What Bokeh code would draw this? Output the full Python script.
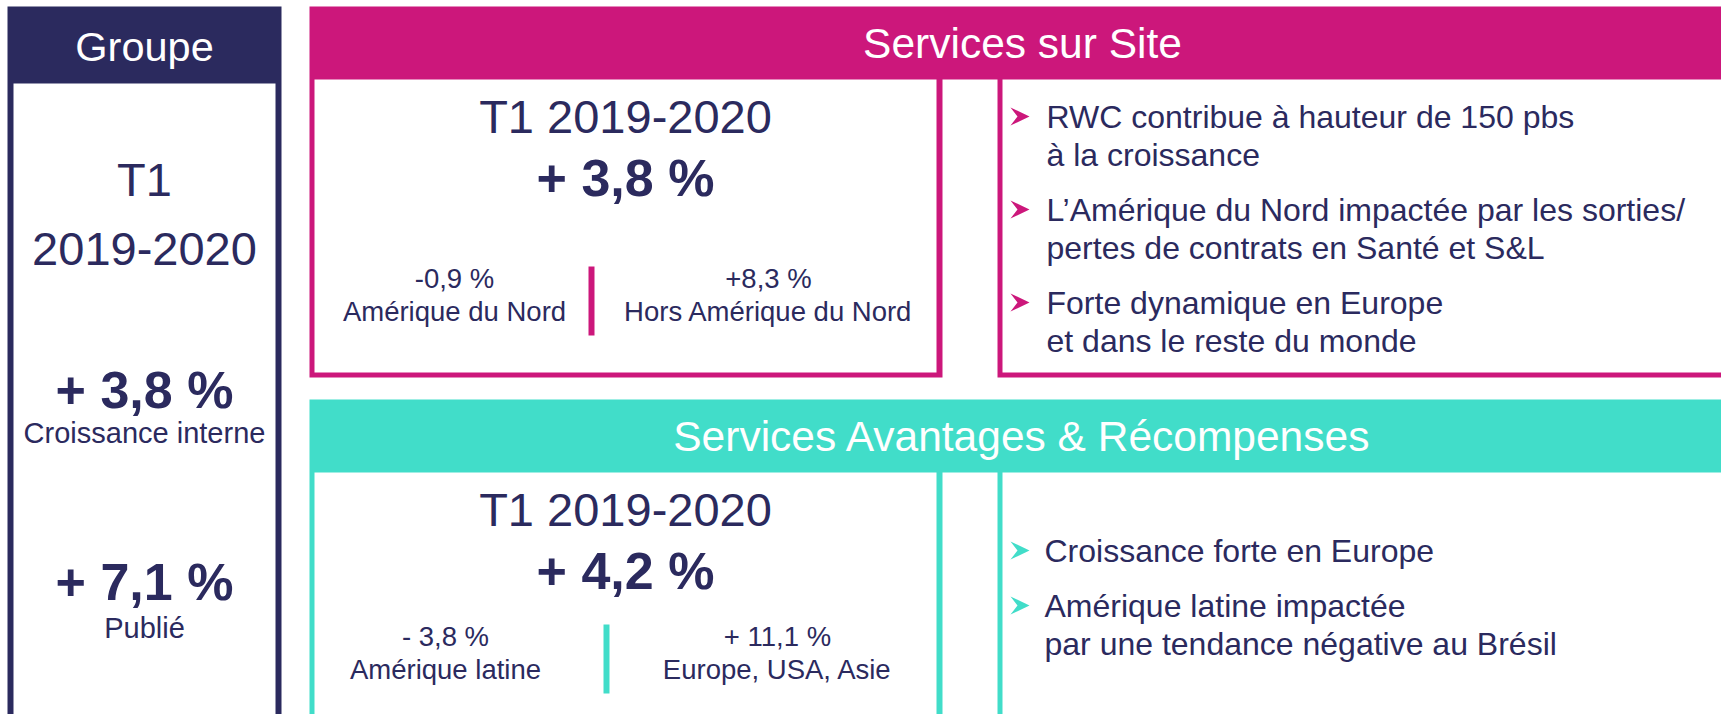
from bokeh.plotting import figure
from bokeh.models import Range1d
from bokeh.core.properties import value
from bokeh.embed import file_html
from bokeh.resources import INLINE

# ---------------- data ----------------
groupe_title = "Groupe"
period_short = ["T1", "2019-2020"]
period_label = "T1 2019-2020"
groupe_values = ["+ 3,8 %", "+ 7,1 %"]
groupe_value_labels = ["Croissance interne", "Publié"]

segments = ["Services sur Site", "Services Avantages & Récompenses"]
segment_totals = ["+ 3,8 %", "+ 4,2 %"]
seg1_region_values = ["-0,9 %", "+8,3 %"]
seg1_regions = ["Amérique du Nord", "Hors Amérique du Nord"]
seg2_region_values = ["- 3,8 %", "+ 11,1 %"]
seg2_regions = ["Amérique latine", "Europe, USA, Asie"]

seg1_bullets = [
    ["RWC contribue à hauteur de 150 pbs", "à la croissance"],
    ["L’Amérique du Nord impactée par les sorties/", "pertes de contrats en Santé et S&L"],
    ["Forte dynamique en Europe", "et dans le reste du monde"],
]
seg2_bullets = [
    ["Croissance forte en Europe"],
    ["Amérique latine impactée", "par une tendance négative au Brésil"],
]

# ---------------- style ----------------
NAVY = "#2B2A5E"
MAGENTA = "#CC177B"
TEAL = "#41DDC9"
FONT = value("Liberation Sans")

W, H = 1721, 714
p = figure(width=W, height=H, x_range=Range1d(0, W), y_range=Range1d(H, 0),
           output_backend="svg", toolbar_location=None, min_border=0,
           x_axis_location=None, y_axis_location=None)
p.grid.visible = False
p.outline_line_color = None
p.background_fill_color = "white"
p.border_fill_color = "white"


def box(l, r, t, b, c):
    p.quad(left=[l], right=[r], top=[t], bottom=[b], fill_color=c, line_color=None)


def txt(x, y, s, size, color=NAVY, bold=False, align="center"):
    p.text(x=[x], y=[y], text=[s], text_font=FONT, text_font_size=f"{size}px",
           text_color=color, text_align=align, text_baseline="middle",
           text_font_style="bold" if bold else "normal")


def arrow(x0, yc, c):
    p.patch(x=[x0, x0 + 19, x0, x0 + 7], y=[yc - 9, yc, yc + 9, yc],
            fill_color=c, line_color=None)


# ---------------- Groupe panel ----------------
box(7, 281, 6, 720, NAVY)
box(13, 275, 83, 720, "white")
txt(144, 46, groupe_title, 41.5, color="white")
txt(144, 179, period_short[0], 47)
txt(144, 248, period_short[1], 47)
gy = [389, 581]
gl = [432, 627]
for i in range(len(groupe_values)):
    txt(144, gy[i], groupe_values[i], 52, bold=True)
    txt(144, gl[i], groupe_value_labels[i], 29)


# ---------------- segment panels ----------------
def segment(top, bottom, color, title, total, rvals, rlabels, rcx, sep_x, ry, bullets, by, bx):
    box(309, 1725, top, bottom, color)
    box(314, 936, top + 73, bottom - 5, "white")
    box(942, 997, top + 73, bottom + 5, "white")
    box(1002, 1725, top + 73, bottom - 5, "white")
    txt(1022, top + 37, title, 42.5, color="white")
    txt(625, top + 110, period_label, 47)
    txt(625, top + 171, total, 52, bold=True)
    for i in range(len(rvals)):
        txt(rcx[i], ry, rvals[i], 27.5)
        txt(rcx[i], ry + 33, rlabels[i], 27.5)
    box(sep_x - 3, sep_x + 3, ry - 12, ry + 57, color)
    y = by
    for lines in bullets:
        arrow(1010, y, color)
        for j, line in enumerate(lines):
            txt(bx, y + j * 38, line, 32, align="left")
        y += 38 * (len(lines) - 1) + 55


segment(6, 377, MAGENTA, segments[0], segment_totals[0], seg1_region_values, seg1_regions,
        [454, 768], 591, 278, seg1_bullets, 116, 1046)
segment(399, 730, TEAL, segments[1], segment_totals[1], seg2_region_values, seg2_regions,
        [445, 777], 606, 636, seg2_bullets, 550, 1044)

open("out.html", "w").write(file_html(p, INLINE))
